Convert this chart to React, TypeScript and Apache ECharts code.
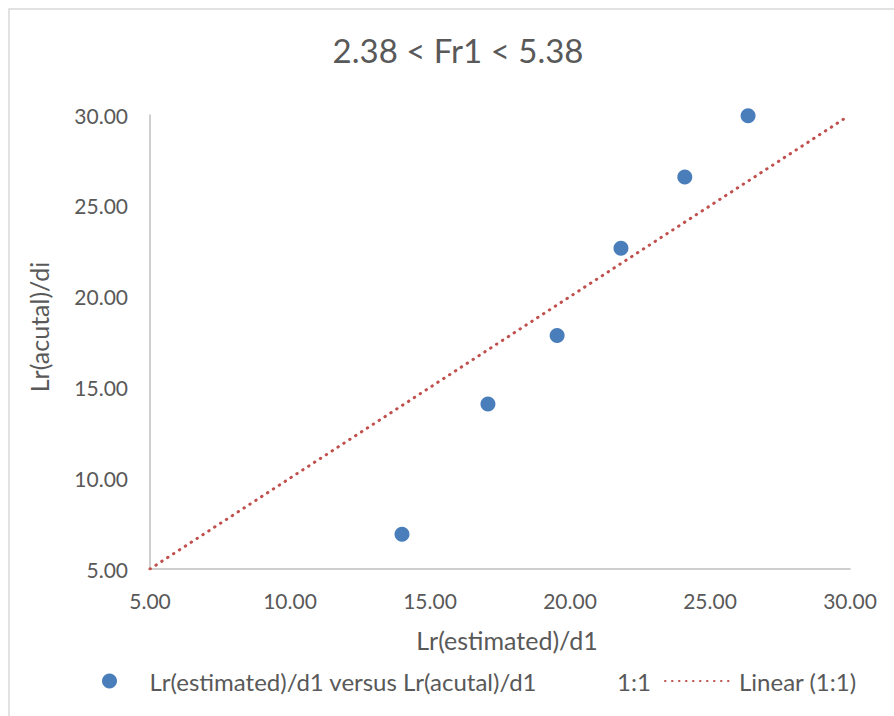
import React, { useEffect, useRef } from "react";
import * as echarts from "echarts";

const titleText = "2.38 < Fr1 < 5.38";
const xAxisName = "Lr(estimated)/d1";
const yAxisName = "Lr(acutal)/di";
const seriesName = "Lr(estimated)/d1 versus Lr(acutal)/d1";
const oneToOneName = "1:1";
const trendName = "Linear (1:1)";

const estimated = [14.0, 17.07, 19.54, 21.82, 24.1, 26.36];
const actual = [6.92, 14.08, 17.86, 22.66, 26.58, 29.96];
const oneToOneX = [5, 29.8];
const oneToOneY = [5, 29.8];

const FONT = "Lato";
const TEXT = "#595959";
const BLUE = "#4A7EBB";
const RED = "#C0504D";

export default function App() {
  const ref = useRef<HTMLDivElement>(null);
  useEffect(() => {
    if (!ref.current) return;
    const chart = echarts.init(ref.current, undefined, { renderer: "svg" });
    const pts = estimated.map((x, i) => [x, actual[i]]);
    const line = oneToOneX.map((x, i) => [x, oneToOneY[i]]);
    const legendText = { fontFamily: FONT, fontSize: 24, color: TEXT };
    chart.setOption({
      animation: false,
      backgroundColor: "#ffffff",
      textStyle: { fontFamily: FONT, color: TEXT },
      title: {
        text: titleText,
        left: 453,
        top: 28,
        textAlign: "center",
        textStyle: { fontFamily: FONT, fontSize: 33, fontWeight: "normal", color: TEXT },
      },
      graphic: [
        {
          type: "rect",
          shape: { x: 9, y: 9, width: 1000, height: 1000 },
          style: { fill: "none", stroke: "#d9d9d9", lineWidth: 1.5 },
          silent: true,
          z: -1,
        },
      ],
      grid: { left: 150, right: 44, top: 115, bottom: 147, containLabel: false },
      xAxis: {
        type: "value",
        min: 5,
        max: 30,
        interval: 5,
        name: xAxisName,
        nameLocation: "middle",
        nameGap: 58,
        nameTextStyle: { fontFamily: FONT, fontSize: 25, color: TEXT, padding: [0, 0, 0, 14] },
        axisLine: { show: true, lineStyle: { color: "#bfbfbf", width: 1.5 } },
        axisTick: { show: false },
        splitLine: { show: false },
        axisLabel: {
          fontFamily: FONT,
          fontSize: 21,
          color: TEXT,
          margin: 21,
          formatter: (v: number) => v.toFixed(2),
        },
      },
      yAxis: {
        type: "value",
        min: 5,
        max: 30,
        interval: 5,
        name: yAxisName,
        nameLocation: "middle",
        nameGap: 99,
        nameTextStyle: { fontFamily: FONT, fontSize: 25, color: TEXT, padding: [0, 0, 0, 30] },
        axisLine: { show: true, lineStyle: { color: "#bfbfbf", width: 1.5 } },
        axisTick: { show: false },
        splitLine: { show: false },
        axisLabel: {
          fontFamily: FONT,
          fontSize: 21,
          color: TEXT,
          margin: 22,
          formatter: (v: number) => v.toFixed(2),
        },
      },
      legend: [
        {
          left: 97,
          top: 664,
          itemWidth: 70,
          itemHeight: 15,
          textStyle: legendText,
          data: [{ name: seriesName, icon: "circle" }],
        },
        {
          left: 596,
          top: 664,
          itemWidth: 10,
          itemHeight: 15,
          textStyle: legendText,
          data: [{ name: oneToOneName, itemStyle: { opacity: 0 }, lineStyle: { opacity: 0 } }],
        },
        {
          left: 659,
          top: 664,
          itemWidth: 69,
          itemHeight: 15,
          textStyle: legendText,
          data: [{ name: trendName, itemStyle: { opacity: 0 } }],
        },
      ],
      series: [
        {
          name: seriesName,
          type: "scatter",
          data: pts,
          symbol: "circle",
          symbolSize: 15,
          itemStyle: { color: BLUE, opacity: 1 },
          z: 3,
        },
        {
          name: oneToOneName,
          type: "line",
          data: line,
          symbol: "none",
          lineStyle: { opacity: 0 },
          itemStyle: { opacity: 0 },
        },
        {
          name: trendName,
          type: "line",
          data: line,
          symbol: "none",
          itemStyle: { color: RED },
          lineStyle: { color: RED, width: 3, type: [0.5, 6.5], cap: "round" },
          z: 2,
        },
      ],
    });
    return () => chart.dispose();
  }, []);
  return <div ref={ref} style={{ width: 894, height: 716, position: "absolute", left: 0, top: 0 }} />;
}
